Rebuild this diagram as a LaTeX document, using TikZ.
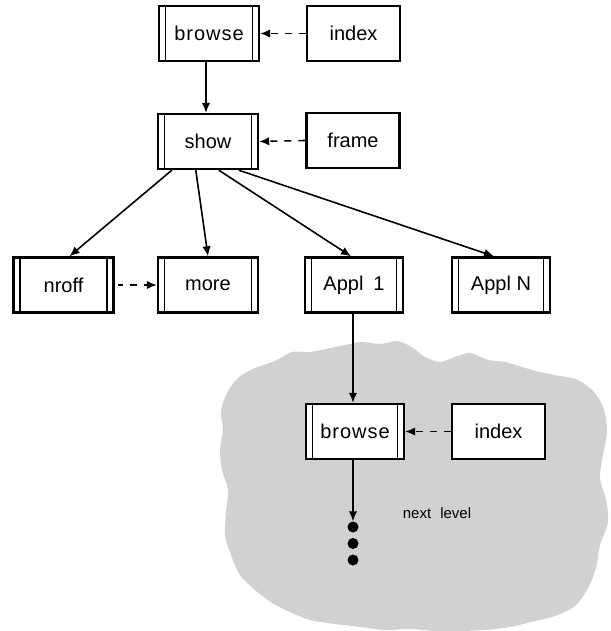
\documentclass[tikz,border=0pt]{standalone}
\usepackage{fontspec}
\setmainfont{Liberation Sans}
\newfontfamily\spacedfont[LetterSpace=5]{Liberation Sans}
\usetikzlibrary{arrows.meta}
\tikzset{
  box/.style={draw, line width=2.4pt, fill=white, minimum width=93pt, minimum height=55pt,
    inner sep=0pt, font=\fontsize{20}{23}\selectfont},
  modbox/.style={box, minimum width=#1,
    path picture={
      \draw[line width=1.7pt]
        ([xshift=6.5pt]path picture bounding box.north west) -- ([xshift=6.5pt]path picture bounding box.south west)
        ([xshift=-6.5pt]path picture bounding box.north east) -- ([xshift=-6.5pt]path picture bounding box.south east);
    }},
  modbox/.default=100pt,
  link/.style={line width=1.6pt, -{Latex[length=10pt,width=8.5pt]}},
  uses/.style={link, dash pattern=on 7pt off 7pt},
  dot/.style={circle, fill=black, inner sep=0pt, minimum size=11pt},
}
\begin{document}
\begin{tikzpicture}[x=1pt,y=-1pt]
  \useasboundingbox (0,0) rectangle (610,631);

  % shaded region holding the next level
  \fill[black!18] plot[smooth cycle, tension=0.55] coordinates {
    (226,395) (238,378) (255,368) (275,361) (292,352) (310,352) (330,348)
    (345,345) (362,342) (380,344) (398,341) (413,348) (425,357) (440,362)
    (455,357) (470,353) (488,360) (505,362) (522,367) (540,372) (560,376)
    (578,380) (594,392) (604,410) (607,432) (603,455) (600,478) (606,500)
    (608,522) (600,545) (596,568) (588,588) (575,606) (555,616) (535,621)
    (510,627) (485,630) (460,631) (435,631) (410,629) (385,630) (360,627)
    (335,624) (310,620) (290,612) (272,603) (255,590) (240,575) (231,555)
    (225,535) (226,512) (228,490) (222,470) (220,450) (223,430) (221,412)};

  % top level
  \node[modbox] (browse) at (209,33.5) {\spacedfont browse};
  \node[box]    (index)  at (353.5,33.5) {index};
  \node[modbox] (show)   at (208,141.5) {show};
  \node[box]    (frame)  at (353,140.5) {frame};

  % second level
  \node[modbox] (nroff) at (63.5,285) {nroff};
  \node[modbox] (more)  at (208,285) {more};
  \node[modbox=98pt] (appl1) at (354,285) {Appl\hspace{0.5em}1};
  \node[modbox=98pt] (appln) at (501,285) {Appl N};

  % next level
  \node[modbox=98pt] (browse2) at (355,431.5) {\spacedfont browse};
  \node[box]         (index2)  at (498.5,431.5) {index};
  \node[font=\fontsize{15}{18}\selectfont] (next) at (437,513) {next\hspace{0.6em}level};
  \node[dot] (d1) at (353,527) {};
  \node[dot] (d2) at (353,543.5) {};
  \node[dot] (d3) at (353,560) {};

  % connectors
  \draw[link] (browse.south -| 206,0) -- (show.north -| 206,0);
  \draw[uses] (index.west) -- (browse.east);
  \draw[uses] (frame.west) -- (show.east);
  \draw[link] ([xshift=15pt]show.south west) -- ([xshift=6pt]nroff.north);
  \draw[link] ([xshift=39pt]show.south west) -- (more.north);
  \draw[link] ([xshift=62pt]show.south west) -- ([xshift=-3pt]appl1.north);
  \draw[link] ([xshift=82pt]show.south west) -- ([xshift=-7pt]appln.north);
  \draw[uses, dash phase=2pt] ([xshift=3pt]nroff.east) -- (more.west);
  \draw[link] (appl1.south -| 353,0) -- (browse2.north -| 353,0);
  \draw[uses] (index2.west) -- (browse2.east);
  \draw[link] (browse2.south -| 353,0) -- (d1.north);
\end{tikzpicture}
\end{document}
